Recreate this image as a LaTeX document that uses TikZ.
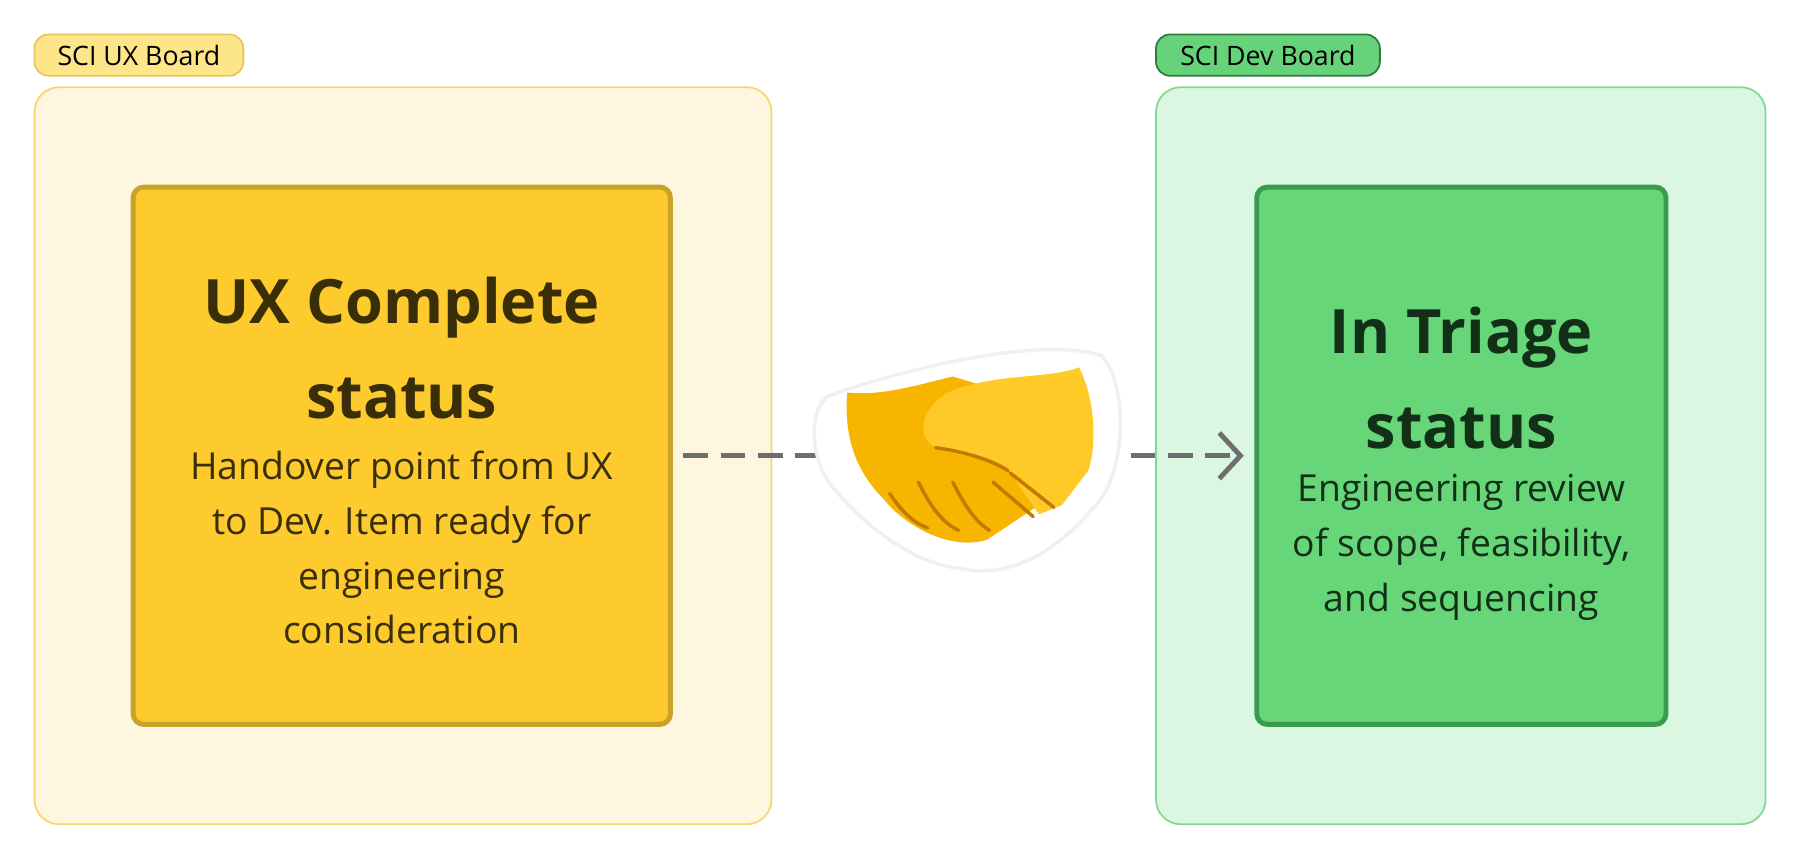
\documentclass[tikz,border=0pt]{standalone}
\usepackage{fontspec}
\setmainfont{Open Sans}
\usetikzlibrary{arrows.meta}

\definecolor{uxtag}{HTML}{FDE68A}
\definecolor{uxtagline}{HTML}{E8C557}
\definecolor{uxback}{HTML}{FEF6DF}
\definecolor{uxbackline}{HTML}{F6D66E}
\definecolor{uxfill}{HTML}{FDCB2E}
\definecolor{uxline}{HTML}{C9A227}
\definecolor{uxtext}{HTML}{3A2E08}
\definecolor{devtag}{HTML}{66D37A}
\definecolor{devtagline}{HTML}{2F7A3C}
\definecolor{devback}{HTML}{DCF7E1}
\definecolor{devbackline}{HTML}{82D992}
\definecolor{devfill}{HTML}{66D679}
\definecolor{devline}{HTML}{3A9A4E}
\definecolor{devtext}{HTML}{123018}
\definecolor{flowgray}{HTML}{6E6E6E}
\definecolor{handA}{HTML}{F7B500}
\definecolor{handB}{HTML}{FFC928}
\definecolor{handline}{HTML}{C27A00}

\tikzset{
  tag/.style={rounded corners=4pt, line width=0.5pt, font=\fontsize{7.6}{9}\selectfont},
  board/.style={rounded corners=7pt, line width=0.5pt},
  status/.style={rounded corners=3pt, line width=1.4pt},
  title/.style={align=center, font=\fontsize{17.4}{27}\bfseries\selectfont},
  body/.style={align=center, font=\fontsize{10.6}{15.6}\selectfont},
}

\begin{document}
\begin{tikzpicture}[x=0.01148cm, y=-0.01148cm]
  \useasboundingbox (0,0) rectangle (1568,748);

  % boards
  \draw[board, fill=uxback, draw=uxbackline] (30,76) rectangle (672,718);
  \draw[board, fill=devback, draw=devbackline] (1007,76) rectangle (1538,718);

  % tags
  \draw[tag, fill=uxtag, draw=uxtagline] (30,30) rectangle (212,66);
  \node[tag, text=black] (uxtag) at (121,48) {SCI UX Board};
  \draw[tag, fill=devtag, draw=devtagline] (1007,30) rectangle (1202,66);
  \node[tag, text=black] (devtag) at (1104.5,48) {SCI Dev Board};

  % status boxes
  \node[status, fill=uxfill, draw=uxline, minimum width=5.37cm, minimum height=5.37cm] (ux) at (350,397) {};
  \node[status, fill=devfill, draw=devline, minimum width=4.09cm, minimum height=5.37cm] (dev) at (1273,397) {};

  \node[title, text=uxtext] (uxtitle) at (350,303) {UX Complete\\status};
  \node[body, text=uxtext] (uxbody) at (350,477) {Handover point from UX\\to Dev. Item ready for\\engineering\\consideration};
  \node[title, text=devtext] (devtitle) at (1273,329) {In Triage\\status};
  \node[body, text=devtext] (devbody) at (1273,477) {Engineering review\\of scope, feasibility,\\and sequencing};

  % handover
  \draw[flowgray, line width=1.4pt, dash pattern=on 7pt off 3.6pt,
        -{Straight Barb[length=6pt, width=13pt, line width=1.4pt]}]
        ([xshift=3pt]ux.east) -- ([xshift=-3pt]dev.west);

  % handshake sticker
  \coordinate (shake) at (845,400);
  \fill[white, draw=black!6, line width=1pt]
    (722,345) .. controls (760,330) and (900,290) .. (960,310)
    .. controls (985,340) and (980,420) .. (950,445)
    .. controls (920,480) and (880,505) .. (835,495)
    .. controls (790,490) and (745,450) .. (722,420)
    .. controls (705,395) and (705,355) .. (722,345) -- cycle;
  \fill[handA] (738,342) .. controls (770,345) and (800,335) .. (830,328)
    -- (870,340) -- (915,390) -- (905,440) -- (860,470)
    .. controls (830,480) and (790,460) .. (770,435)
    .. controls (745,410) and (735,380) .. (738,342) -- cycle;
  \fill[handB] (830,340) .. controls (870,325) and (915,330) .. (940,320)
    .. controls (955,350) and (955,390) .. (948,410)
    -- (925,440) -- (905,448) -- (880,412)
    .. controls (860,395) and (840,400) .. (815,390)
    .. controls (795,380) and (805,350) .. (830,340) -- cycle;
  \draw[handline, line width=1pt, line cap=round]
    (815,390) .. controls (830,392) and (860,398) .. (878,410)
    (880,412) -- (918,442)
    (800,420) .. controls (810,440) and (820,455) .. (835,462)
    (830,420) .. controls (840,440) and (850,455) .. (862,462)
    (775,430) .. controls (785,445) and (795,455) .. (808,460)
    (865,420) -- (900,450);
\end{tikzpicture}
\end{document}
